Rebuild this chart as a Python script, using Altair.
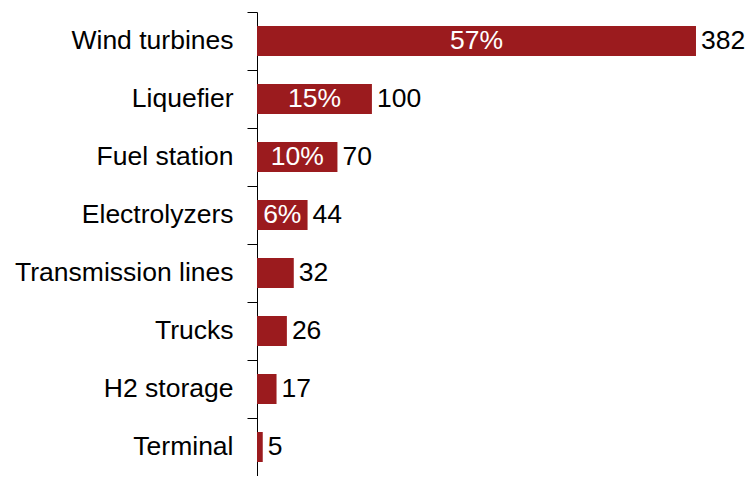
import altair as alt
import pandas as pd

categories = ["Wind turbines", "Liquefier", "Fuel station", "Electrolyzers",
              "Transmission lines", "Trucks", "H2 storage", "Terminal"]
values = [382, 100, 70, 44, 32, 26, 17, 5]
shares = ["57%", "15%", "10%", "6%", "", "", "", ""]

df = pd.DataFrame({"cat": categories, "val": values, "share": shares})

RED = "#9B1B1E"
FONT = "Liberation Sans"
FS = 26.5
XMAX = 420.3

y = alt.Y("cat:N", sort=categories, title=None,
          scale=alt.Scale(paddingInner=0, paddingOuter=0),
          axis=alt.Axis(bandPosition=0, domainColor="black", domainWidth=1,
                        tickColor="black", tickSize=10, tickWidth=1,
                        labelFont=FONT, labelFontSize=FS, labelColor="black",
                        labelPadding=14, labelLimit=400, grid=False))
x = alt.X("val:Q", title=None, scale=alt.Scale(domain=[0, XMAX], nice=False),
          axis=None)

base = alt.Chart(df)

bars = base.mark_bar(color=RED, size=30).encode(x=x, y=y)

vals = base.mark_text(align="left", baseline="middle", dx=5, font=FONT,
                      fontSize=FS, color="black").encode(
    x=x, y=y, text="val:Q")

pct = base.transform_calculate(half="datum.val / 2").mark_text(
    align="center", baseline="middle", font=FONT, fontSize=FS,
    color="white").encode(
    x=alt.X("half:Q", scale=alt.Scale(domain=[0, XMAX], nice=False), axis=None),
    y=y, text="share:N")

chart = alt.layer(bars, vals, pct).properties(
    width=483, height=464,
    autosize=alt.AutoSizeParams(type="none"),
    padding={"left": 249, "top": 4, "right": 6, "bottom": 0},
).configure_view(stroke=None)

chart.save("out.html", embed_options={"renderer": "svg", "actions": False})
